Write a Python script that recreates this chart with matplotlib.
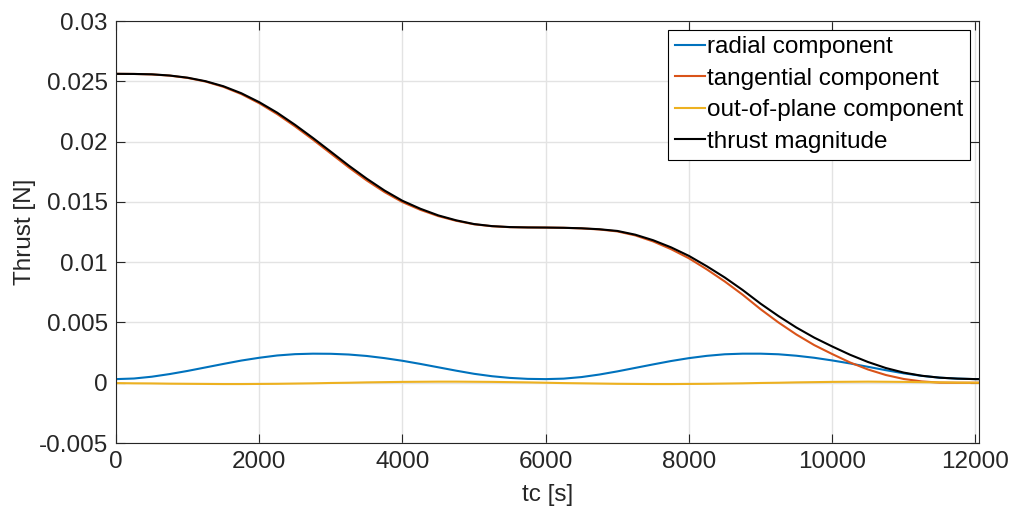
import numpy as np
import matplotlib
matplotlib.use('Agg')
import matplotlib.pyplot as plt
from matplotlib.ticker import FuncFormatter

# time axis [s]
tc = list(range(0, 12001, 250)) + [12050]

radial = [0.00030, 0.00035, 0.00050, 0.00072, 0.00098, 0.00127, 0.00156, 0.00184,
          0.00207, 0.00226, 0.00237, 0.00241, 0.00240, 0.00234, 0.00222, 0.00204,
          0.00182, 0.00156, 0.00128, 0.00100, 0.00074, 0.00054, 0.00040, 0.00032,
          0.00030, 0.00034, 0.00047, 0.00068, 0.00094, 0.00123, 0.00152, 0.00180,
          0.00204, 0.00223, 0.00236, 0.00241, 0.00241, 0.00236, 0.00224, 0.00207,
          0.00185, 0.00160, 0.00132, 0.00104, 0.00078, 0.00057, 0.00042, 0.00034,
          0.00030, 0.00030]

tangential = [0.02562, 0.02561, 0.02557, 0.02547, 0.02528, 0.02498, 0.02454, 0.02394,
              0.02318, 0.02228, 0.02126, 0.02016, 0.01901, 0.01786, 0.01678, 0.01581,
              0.01498, 0.01434, 0.01382, 0.01343, 0.01314, 0.01298, 0.01290, 0.01288,
              0.01287, 0.01285, 0.01280, 0.01271, 0.01255, 0.01222, 0.01172, 0.01108,
              0.01032, 0.00940, 0.00840, 0.00730, 0.00610, 0.00500, 0.00400, 0.00312,
              0.00238, 0.00168, 0.00110, 0.00064, 0.00031, 0.00011, 0.00001, 0.00000,
              0.00000, 0.00000]

out_of_plane = [-0.00003, -0.00005, -0.00006, -0.00008, -0.00009, -0.00010, -0.00011, -0.00011,
                -0.00010, -0.00009, -0.00007, -0.00005, -0.00002, 0.00000, 0.00003, 0.00005,
                0.00007, 0.00008, 0.00009, 0.00009, 0.00008, 0.00007, 0.00005, 0.00003,
                0.00000, -0.00003, -0.00005, -0.00007, -0.00009, -0.00010, -0.00011, -0.00011,
                -0.00010, -0.00009, -0.00007, -0.00005, -0.00002, 0.00000, 0.00003, 0.00005,
                0.00007, 0.00008, 0.00009, 0.00008, 0.00007, 0.00005, 0.00003, 0.00001,
                0.00000, 0.00000]

magnitude = [0.02562, 0.02561, 0.02558, 0.02548, 0.02530, 0.02501, 0.02459, 0.02401,
             0.02327, 0.02240, 0.02139, 0.02030, 0.01916, 0.01801, 0.01693, 0.01594,
             0.01509, 0.01443, 0.01388, 0.01347, 0.01316, 0.01299, 0.01291, 0.01288,
             0.01287, 0.01285, 0.01281, 0.01273, 0.01259, 0.01228, 0.01182, 0.01123,
             0.01052, 0.00966, 0.00873, 0.00769, 0.00656, 0.00553, 0.00458, 0.00374,
             0.00301, 0.00232, 0.00172, 0.00122, 0.00084, 0.00058, 0.00042, 0.00034,
             0.00030, 0.00030]

labels = ['radial component', 'tangential component', 'out-of-plane component', 'thrust magnitude']
colors = ['#0072BD', '#D95319', '#EDB120', '#000000']

plt.rcParams['font.family'] = ['Liberation Sans', 'DejaVu Sans']
plt.rcParams['font.size'] = 17.5
ink = '#262626'

fig = plt.figure(figsize=(10.15, 5.14), dpi=100)
ax = fig.add_axes([0.1143, 0.1381, 0.8502, 0.8210])

for series, lab, col in zip([radial, tangential, out_of_plane, magnitude], labels, colors):
    ax.plot(tc, series, color=col, linewidth=1.5, label=lab)

ax.set_xlim(0, 12050)
ax.set_ylim(-0.005, 0.03)
ax.set_xticks(np.arange(0, 12001, 2000))
ax.set_yticks(np.arange(-0.005, 0.0301, 0.005))
ax.yaxis.set_major_formatter(FuncFormatter(lambda v, p: '0' if abs(v) < 1e-12 else ('%g' % round(v, 4))))

ax.grid(True, color='#e3e3e3', linewidth=1.0)
ax.set_axisbelow(True)
ax.tick_params(direction='in', length=6.5, width=0.8, top=True, right=True,
               colors=ink, labelcolor=ink, labelsize=17.5, pad=6)
for sp in ax.spines.values():
    sp.set_color(ink)
    sp.set_linewidth(0.8)

ax.set_xlabel('tc [s]', color=ink, fontsize=17.5, labelpad=8)
ax.set_ylabel('Thrust [N]', color=ink, fontsize=17.5, labelpad=2)

leg = ax.legend(loc='upper right', fancybox=False, framealpha=1, edgecolor='#000000',
                handlelength=1.25, handletextpad=0.1, labelspacing=0.39,
                borderpad=0.28, borderaxespad=0.35, fontsize=17.5)
leg.get_frame().set_linewidth(0.8)

fig.savefig('out.png', dpi=100)
